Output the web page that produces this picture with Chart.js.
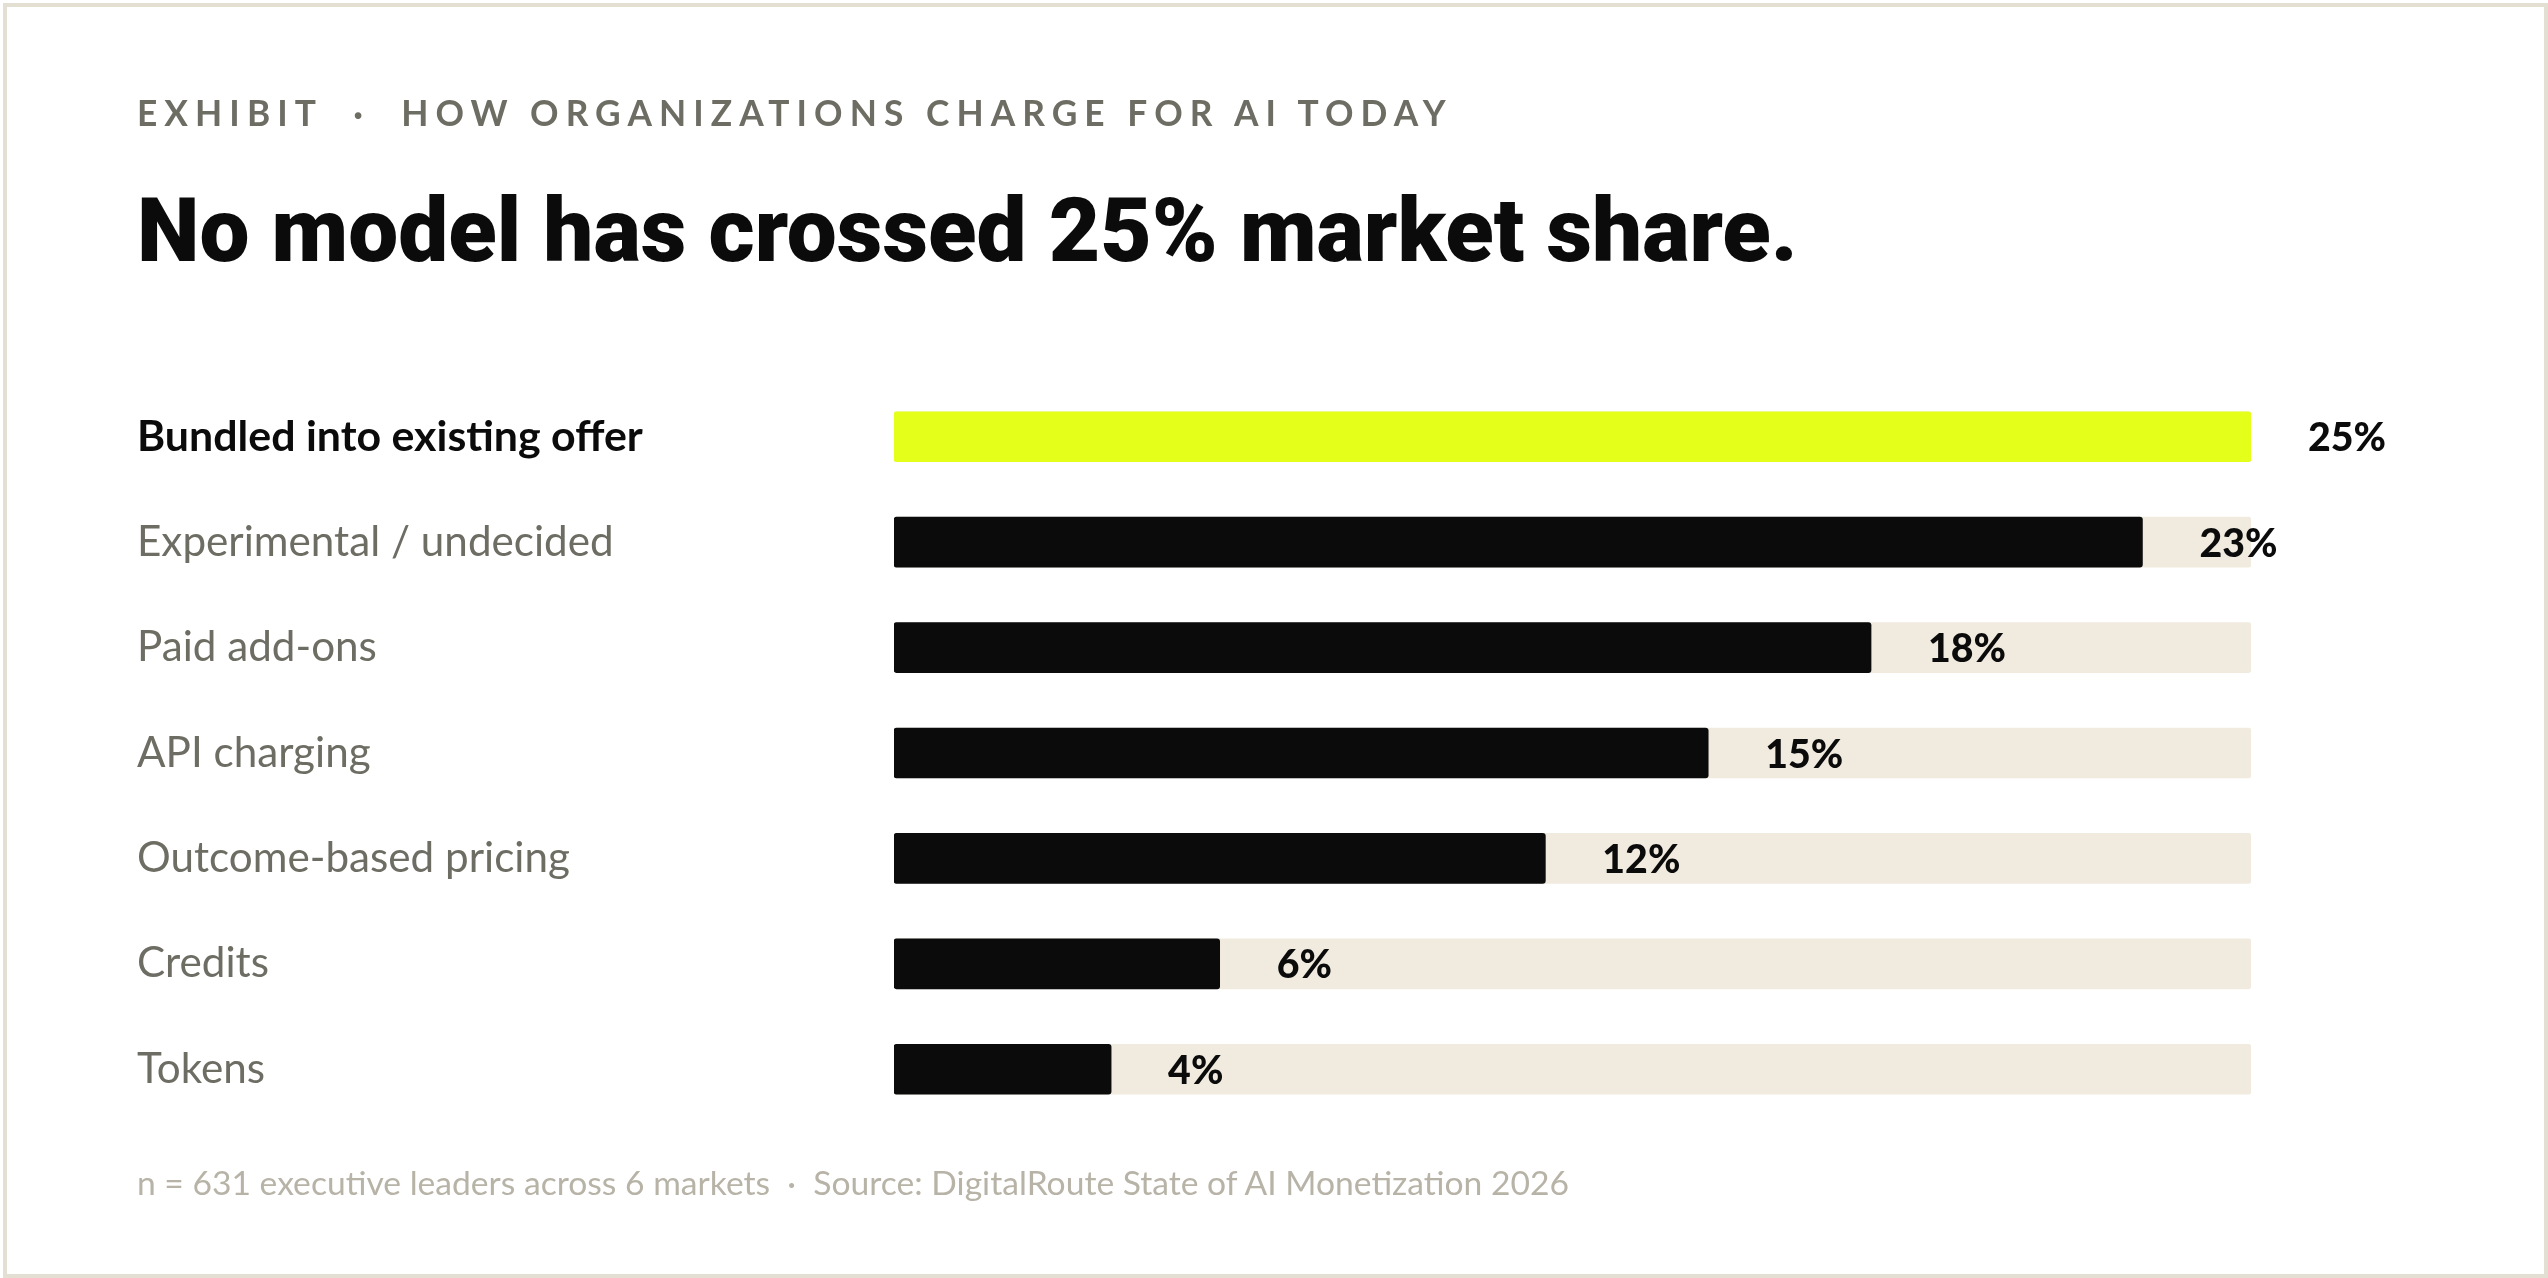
<!DOCTYPE html>
<html><head><meta charset="utf-8">
<script src="https://cdn.jsdelivr.net/npm/chart.js@4.4.1/dist/chart.umd.min.js"></script>
<style>
html,body{margin:0;padding:0;background:#fff;}
body{width:2548px;height:1278px;position:relative;overflow:hidden;}
#frame{position:absolute;left:3px;top:3px;width:2545px;height:1275px;box-sizing:border-box;border:4px solid #e3dfd2;}
.t{position:absolute;white-space:nowrap;margin:0;line-height:1;}
#eyebrow{font-family:Lato;font-weight:700;color:#6e6d64;letter-spacing:0.2em;}
#title{font-family:Roboto;font-weight:900;color:#0b0b0b;}
#foot{font-family:Lato;font-weight:400;color:#b7b3a7;}
#wrap{position:absolute;left:0;top:0;width:2548px;height:1278px;}
</style></head>
<body>
<div id="frame"></div>
<div id="wrap"><canvas id="c"></canvas></div>
<div class="t" id="eyebrow">EXHIBIT &nbsp;·&nbsp; HOW ORGANIZATIONS CHARGE FOR AI TODAY</div>
<h1 class="t" id="title">No model has crossed 25% market share.</h1>
<div class="t" id="foot">n = 631 executive leaders across 6 markets &nbsp;·&nbsp; Source: DigitalRoute State of AI Monetization 2026</div>
<script>
// ---- data ----
const categories = ['Bundled into existing offer','Experimental / undecided','Paid add-ons','API charging','Outcome-based pricing','Credits','Tokens'];
const shares = [25, 23, 18, 15, 12, 6, 4];
const trackValues = [25, 25, 25, 25, 25, 25, 25];
const axisMin = 0;
const axisMax = 25;
const highlightIndex = 0;

// ---- styles ----
const YELLOW = '#e4ff1a', BLACK = '#0b0b0b', TRACK = '#f1ebdf';
const GREY = '#6e6d64';

const mctx = document.createElement('canvas').getContext('2d');
function fitHtml(el, family, weight, left, width, baseline, lsEm) {
  el.style.fontSize = '100px';
  const w = el.getBoundingClientRect().width - (lsEm || 0) * 100;
  const size = 100 * width / w;
  el.style.fontSize = size + 'px';
  mctx.font = weight + ' ' + size + 'px ' + family;
  const m = mctx.measureText('H');
  const A = m.fontBoundingBoxAscent, D = m.fontBoundingBoxDescent;
  const off = (size - (A + D)) / 2 + A;
  el.style.left = left + 'px';
  el.style.top = (baseline - off) + 'px';
}
function fitCanvas(text, family, weight, width) {
  mctx.font = weight + ' 100px ' + family;
  return 100 * width / mctx.measureText(text).width;
}

function build() {
  fitHtml(document.getElementById('eyebrow'), 'Lato', 700, 137, 1309, 126, 0.2);
  fitHtml(document.getElementById('title'), 'Roboto', 900, 137, 1661, 262, 0);
  fitHtml(document.getElementById('foot'), 'Lato', 400, 137, 1433, 1196, 0);

  const regSize = (fitCanvas('Outcome-based pricing', 'Lato', 400, 431) + fitCanvas('Experimental / undecided', 'Lato', 400, 479)) / 2;
  const boldSize = fitCanvas('Bundled into existing offer', 'Lato', 700, 506);
  const valSize = fitCanvas('12%', 'Lato', 900, 78);

  const valueLabels = {
    id: 'valueLabels',
    afterDatasetsDraw(chart) {
      const ctx = chart.ctx;
      const meta = chart.getDatasetMeta(0);
      ctx.save();
      ctx.font = '900 ' + valSize + 'px Lato';
      ctx.fillStyle = BLACK;
      ctx.textAlign = 'left';
      ctx.textBaseline = 'alphabetic';
      const capH = ctx.measureText('0').actualBoundingBoxAscent;
      meta.data.forEach((bar, i) => {
        ctx.fillText(shares[i] + '%', bar.x + 57, bar.y + capH / 2);
      });
      ctx.restore();
    }
  };

  new Chart(document.getElementById('c'), {
    type: 'bar',
    data: {
      labels: categories,
      datasets: [
        { label: 'Share', data: shares,
          backgroundColor: shares.map((v, i) => i === highlightIndex ? YELLOW : BLACK),
          barThickness: 50, borderRadius: 3, borderSkipped: false, grouped: false, order: 0 },
        { label: 'Track', data: trackValues, backgroundColor: TRACK,
          barThickness: 50, borderRadius: 3, borderSkipped: false, grouped: false, order: 1 }
      ]
    },
    options: {
      indexAxis: 'y',
      responsive: true,
      maintainAspectRatio: false,
      animation: false,
      layout: { padding: { left: 137, right: 297, top: 384, bottom: 156 } },
      plugins: { legend: { display: false }, tooltip: { enabled: false } },
      scales: {
        x: { display: false, min: axisMin, max: axisMax },
        y: {
          grid: { display: false },
          border: { display: false },
          ticks: {
            crossAlign: 'far',
            padding: 0,
            color: c => c.index === highlightIndex ? BLACK : GREY,
            font: c => ({ family: 'Lato', size: c.index === highlightIndex ? boldSize : regSize,
                          weight: c.index === highlightIndex ? '700' : '400' })
          },
          afterFit: s => { s.width = 757; }
        }
      }
    },
    plugins: [valueLabels]
  });
}
if (document.fonts && document.fonts.ready) document.fonts.ready.then(build); else build();
</script>
</body></html>
